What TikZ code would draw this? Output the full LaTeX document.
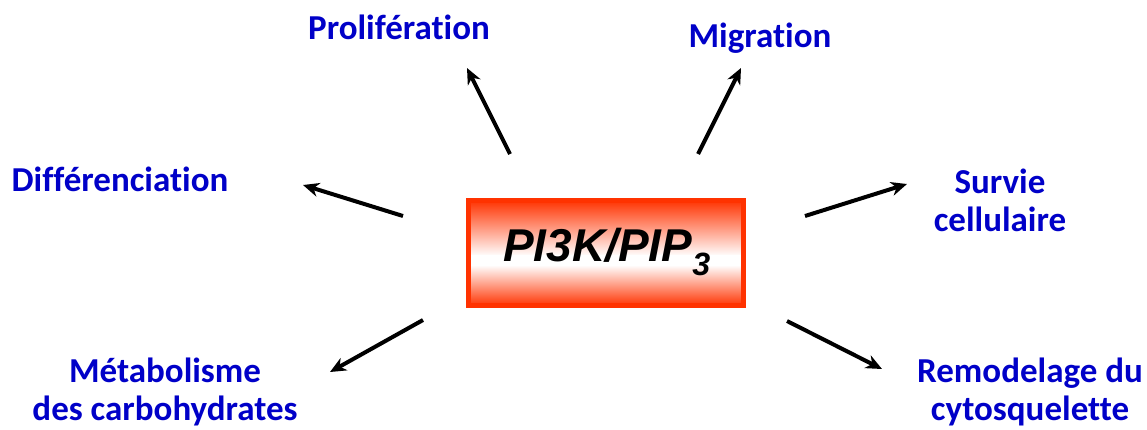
\documentclass[tikz,border=0pt]{standalone}
\usepackage{fontspec}
\setmainfont{Carlito}[RawFeature=-liga]
\newfontfamily\arialfont{Liberation Sans}
\usetikzlibrary{arrows.meta}
\definecolor{lblue}{RGB}{0,0,200}
\definecolor{boxred}{RGB}{255,50,0}
\tikzset{
  lbl/.style={text=lblue, font=\bfseries\fontsize{35}{38}\selectfont, align=center, inner sep=0pt},
  arr/.style={line width=4pt, -{Stealth[length=16pt,width=14pt,inset=5pt]}, black},
}
\begin{document}
\begin{tikzpicture}[x=1pt,y=-1pt]
\useasboundingbox (0,0) rectangle (1147,429);
\shade[top color=boxred, bottom color=white] (468,200) rectangle (744,256);
\fill[white] (468,255) rectangle (744,266);
\shade[top color=white, bottom color=boxred] (468,265) rectangle (744,306);
\node[draw=boxred, line width=5pt, minimum width=275pt, minimum height=105pt, inner sep=0pt] (box) at (606,253) {};
\node[font=\arialfont\bfseries\itshape\fontsize{46}{50}\selectfont, inner sep=0pt] (pi) at (607,252) {PI3K/PIP\textsubscript{3}};
\node[lbl] (prol) at (399,27) {Prolifération};
\node[lbl] (mig) at (760,38) {Migration};
\node[lbl] (diff) at (120,179) {Différenciation};
\node[lbl] (surv) at (1000,200) {Survie\\cellulaire};
\node[lbl] (meta) at (165,392) {Métabolisme\\des carbohydrates};
\node[lbl] (remo) at (1030,392) {Remodelage du\\cytosquelette};
\coordinate (s1) at (510,154); \coordinate (e1) at (467,68);
\coordinate (s2) at (698,154); \coordinate (e2) at (741,68);
\coordinate (s3) at (403,216); \coordinate (e3) at (303,185);
\coordinate (s4) at (805,216); \coordinate (e4) at (907,184);
\coordinate (s5) at (423,320); \coordinate (e5) at (330,372);
\coordinate (s6) at (787,321); \coordinate (e6) at (882,369);
\draw[arr] (s1) -- (e1);
\draw[arr] (s2) -- (e2);
\draw[arr] (s3) -- (e3);
\draw[arr] (s4) -- (e4);
\draw[arr] (s5) -- (e5);
\draw[arr] (s6) -- (e6);
\end{tikzpicture}
\end{document}
